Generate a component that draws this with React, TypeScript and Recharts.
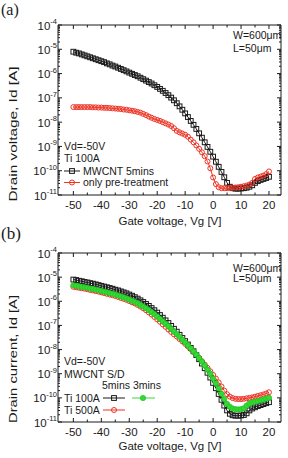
import React from "react";
import { LineChart, Line, XAxis, YAxis } from "recharts";

const FONT = "'Liberation Sans', Arial, Helvetica, sans-serif";
const SERIF = "'Liberation Serif', 'Times New Roman', serif";
const INK = "#1a1a1a";
const RED = "#ee3324";
const GREEN = "#35d935";

// gate voltage sweep [V]
const vg = [
  -50, -49, -48, -47, -46, -45, -44, -43, -42, -41, -40, -39, -38, -37, -36, -35, -34, -33, -32, -31,
  -30, -29, -28, -27, -26, -25, -24, -23, -22, -21, -20, -19, -18, -17, -16, -15, -14, -13, -12, -11,
  -10, -9, -8, -7, -6, -5, -4, -3, -2, -1, 0, 1, 2, 3, 4, 5, 6, 7, 8, 9,
  10, 11, 12, 13, 14, 15, 16, 17, 18, 19, 20,
];

// (a) log10 of Id [A], Ti 100A
const aMwcnt5 = [
  -5.10, -5.14, -5.17, -5.21, -5.25, -5.29, -5.33, -5.37, -5.41, -5.45, -5.49, -5.53, -5.58, -5.62, -5.67, -5.71, -5.76, -5.81, -5.86, -5.91,
  -5.96, -6.01, -6.06, -6.11, -6.17, -6.23, -6.29, -6.35, -6.41, -6.48, -6.55, -6.63, -6.71, -6.80, -6.89, -6.99, -7.10, -7.22, -7.35, -7.49,
  -7.64, -7.79, -7.95, -8.11, -8.28, -8.46, -8.64, -8.83, -9.02, -9.22, -9.42, -9.63, -9.84, -10.05, -10.27, -10.50, -10.66, -10.72, -10.74, -10.74,
  -10.73, -10.72, -10.70, -10.66, -10.60, -10.50, -10.43, -10.38, -10.34, -10.30, -10.25,
];
const aPreTreat = [
  -7.38, -7.38, -7.38, -7.38, -7.38, -7.38, -7.38, -7.39, -7.39, -7.40, -7.40, -7.41, -7.41, -7.42, -7.43, -7.44, -7.45, -7.46, -7.48, -7.49,
  -7.51, -7.53, -7.55, -7.58, -7.61, -7.66, -7.71, -7.77, -7.82, -7.87, -7.91, -7.95, -8.00, -8.05, -8.10, -8.16, -8.25, -8.36, -8.42, -8.47,
  -8.52, -8.60, -8.72, -8.83, -8.96, -9.10, -9.24, -9.40, -9.62, -9.90, -10.28, -10.55, -10.68, -10.72, -10.72, -10.72, -10.71, -10.70, -10.69, -10.68,
  -10.66, -10.64, -10.61, -10.57, -10.50, -10.34, -10.28, -10.24, -10.20, -10.14, -10.03,
];

// (b) log10 of Id [A], MWCNT S/D
const bTi100m5 = [
  -5.10, -5.12, -5.15, -5.17, -5.20, -5.22, -5.25, -5.27, -5.30, -5.33, -5.36, -5.39, -5.42, -5.45, -5.48, -5.52, -5.55, -5.59, -5.63, -5.67,
  -5.72, -5.77, -5.83, -5.89, -5.96, -6.03, -6.11, -6.19, -6.28, -6.37, -6.47, -6.57, -6.68, -6.79, -6.90, -7.02, -7.14, -7.26, -7.39, -7.52,
  -7.65, -7.79, -7.93, -8.07, -8.23, -8.40, -8.58, -8.77, -8.96, -9.16, -9.38, -9.60, -9.84, -10.08, -10.32, -10.52, -10.66, -10.72, -10.74, -10.74,
  -10.73, -10.71, -10.64, -10.52, -10.44, -10.39, -10.34, -10.30, -10.26, -10.22, -10.18,
];
const bTi100m3 = [
  -5.34, -5.36, -5.38, -5.40, -5.42, -5.44, -5.47, -5.49, -5.52, -5.54, -5.57, -5.60, -5.63, -5.66, -5.69, -5.72, -5.76, -5.80, -5.84, -5.88,
  -5.93, -5.98, -6.03, -6.09, -6.15, -6.22, -6.29, -6.37, -6.45, -6.54, -6.63, -6.73, -6.83, -6.93, -7.03, -7.14, -7.25, -7.36, -7.47, -7.59,
  -7.71, -7.83, -7.95, -8.08, -8.21, -8.35, -8.50, -8.66, -8.83, -9.00, -9.20, -9.40, -9.61, -9.83, -10.05, -10.25, -10.37, -10.44, -10.47, -10.48,
  -10.47, -10.43, -10.32, -10.23, -10.19, -10.16, -10.13, -10.10, -10.07, -10.03, -10.00,
];
const bTi500m5 = [
  -5.40, -5.42, -5.44, -5.46, -5.48, -5.50, -5.53, -5.55, -5.58, -5.60, -5.63, -5.66, -5.69, -5.72, -5.75, -5.78, -5.82, -5.86, -5.90, -5.94,
  -5.99, -6.04, -6.09, -6.15, -6.22, -6.29, -6.37, -6.46, -6.55, -6.65, -6.75, -6.85, -6.96, -7.06, -7.17, -7.27, -7.37, -7.46, -7.56, -7.66,
  -7.76, -7.87, -7.98, -8.10, -8.22, -8.35, -8.48, -8.62, -8.76, -8.90, -9.05, -9.20, -9.36, -9.53, -9.70, -9.85, -9.95, -10.01, -10.04, -10.05,
  -10.05, -10.04, -10.02, -10.00, -9.98, -9.95, -9.92, -9.89, -9.86, -9.82, -9.77,
];

const dataA = vg.map((v, i) => ({ vg: v, mw: 10 ** aMwcnt5[i], pre: 10 ** aPreTreat[i] }));
const dataB = vg.map((v, i) => ({
  vg: v,
  t100m5: 10 ** bTi100m5[i],
  t100m3: 10 ** bTi100m3[i],
  t500m5: 10 ** bTi500m5[i],
}));

const xTicks = [-50, -45, -40, -35, -30, -25, -20, -15, -10, -5, 0, 5, 10, 15, 20];
const decades = [-11, -10, -9, -8, -7, -6, -5];
const yTicks: number[] = [];
decades.forEach((d) => {
  for (let m = 1; m <= 9; m++) yTicks.push(m * Math.pow(10, d));
});
yTicks.push(1e-4);

const isDecade = (v: number) => {
  const l = Math.log10(v);
  return Math.abs(l - Math.round(l)) < 1e-6;
};

const LeftTick = ({ x, y, payload }: any) => {
  const v = payload.value;
  const major = isDecade(v);
  return (
    <g>
      <line x1={x} x2={x + (major ? 4 : 2)} y1={y} y2={y} stroke={INK} />
      {major && (
        <text x={x - 1} y={y + 4.5} textAnchor="end" fontSize={11.5} fontFamily={FONT} fill={INK}>
          10
          <tspan dy={-5.5} fontSize={7.5}>
            {Math.round(Math.log10(v))}
          </tspan>
        </text>
      )}
    </g>
  );
};

const RightTick = ({ x, y, payload }: any) => {
  const major = isDecade(payload.value);
  return <line x1={x} x2={x - (major ? 4 : 2)} y1={y} y2={y} stroke={INK} />;
};

const BottomTick = ({ x, y, payload }: any) => {
  const major = payload.value % 10 === 0;
  return (
    <g>
      <line x1={x} x2={x} y1={y} y2={y - (major ? 4 : 2.5)} stroke={INK} />
      {major && (
        <text x={x} y={y + 13.5} textAnchor="middle" fontSize={11.5} fontFamily={FONT} fill={INK}>
          {payload.value}
        </text>
      )}
    </g>
  );
};

const TopTick = ({ x, y, payload }: any) => {
  const major = payload.value % 10 === 0;
  return <line x1={x} x2={x} y1={y} y2={y + (major ? 4 : 2.5)} stroke={INK} />;
};

const SquareDot = (p: any) =>
  p.cx == null ? null : (
    <rect x={p.cx - 2.4} y={p.cy - 2.4} width={4.8} height={4.8} fill="none" stroke={INK} strokeWidth={1} />
  );
const RedDot = (p: any) =>
  p.cx == null ? null : <circle cx={p.cx} cy={p.cy} r={2.5} fill="none" stroke={RED} strokeWidth={1} />;
const GreenDot = (p: any) =>
  p.cx == null ? null : <circle cx={p.cx} cy={p.cy} r={2.6} fill={GREEN} stroke="#22c322" strokeWidth={0.8} />;

const axisStroke = { stroke: INK, strokeWidth: 1 };

const Frame = ({ data, height, children }: any) => (
  <LineChart width={288} height={height} data={data} margin={{ top: 24, right: 6, bottom: 0, left: 0 }}>
    <XAxis
      xAxisId="b"
      dataKey="vg"
      type="number"
      domain={[-55.5, 24.3]}
      allowDataOverflow
      ticks={xTicks}
      interval={0}
      tickSize={0}
      tickMargin={0}
      tickLine={false}
      tick={<BottomTick />}
      axisLine={axisStroke}
      height={34}
    />
    <XAxis
      xAxisId="t"
      orientation="top"
      dataKey="vg"
      type="number"
      domain={[-55.5, 24.3]}
      allowDataOverflow
      ticks={xTicks}
      interval={0}
      tickSize={0}
      tickMargin={0}
      tickLine={false}
      tick={<TopTick />}
      axisLine={axisStroke}
      height={1}
    />
    <YAxis
      yAxisId="l"
      scale="log"
      domain={[1e-11, 1e-4]}
      allowDataOverflow
      ticks={yTicks}
      interval={0}
      tickSize={0}
      tickMargin={0}
      tickLine={false}
      tick={<LeftTick />}
      axisLine={axisStroke}
      width={58}
    />
    <YAxis
      yAxisId="r"
      orientation="right"
      scale="log"
      domain={[1e-11, 1e-4]}
      allowDataOverflow
      ticks={yTicks}
      interval={0}
      tickSize={0}
      tickMargin={0}
      tickLine={false}
      tick={<RightTick />}
      axisLine={axisStroke}
      width={1}
    />
    {children}
  </LineChart>
);

const txt = { fontFamily: FONT, fill: INK };

export default function App() {
  return (
    <div style={{ position: "absolute", left: 0, top: 0, width: 288, height: 458, background: "#fff" }}>
      <div style={{ position: "absolute", left: 0, top: 0 }}>
        <Frame data={dataA} height={229}>
          <Line xAxisId="b" yAxisId="l" dataKey="mw" stroke={INK} strokeWidth={1} dot={<SquareDot />} activeDot={false} isAnimationActive={false} />
          <Line xAxisId="b" yAxisId="l" dataKey="pre" stroke={RED} strokeWidth={1} dot={<RedDot />} activeDot={false} isAnimationActive={false} />
        </Frame>
      </div>
      <div style={{ position: "absolute", left: 0, top: 228 }}>
        <Frame data={dataB} height={228}>
          <Line xAxisId="b" yAxisId="l" dataKey="t500m5" stroke={RED} strokeWidth={1} dot={<RedDot />} activeDot={false} isAnimationActive={false} />
          <Line xAxisId="b" yAxisId="l" dataKey="t100m5" stroke={INK} strokeWidth={1} dot={<SquareDot />} activeDot={false} isAnimationActive={false} />
          <Line xAxisId="b" yAxisId="l" dataKey="t100m3" stroke={GREEN} strokeWidth={1} dot={<GreenDot />} activeDot={false} isAnimationActive={false} />
        </Frame>
      </div>

      {/* titles, annotations and legends */}
      <svg width={288} height={458} style={{ position: "absolute", left: 0, top: 0, pointerEvents: "none" }}>
        <text x={1} y={15} fontSize={16} fontFamily={SERIF} fill={INK}>(a)</text>
        <text
          transform="translate(17,134) rotate(-90)"
          textAnchor="middle"
          fontSize={11.5}
          textLength={135}
          lengthAdjust="spacingAndGlyphs"
          {...txt}
        >
          Drain voltage, Id [A]
        </text>
        <text x={170} y={225} textAnchor="middle" fontSize={11.5} {...txt}>Gate voltage, Vg [V]</text>
        <text x={233} y={38.5} fontSize={10.5} {...txt}>W=600μm</text>
        <text x={233} y={52} fontSize={10.5} {...txt}>L=50μm</text>
        <text x={64} y={150} fontSize={10.5} {...txt}>Vd=-50V</text>
        <text x={64} y={162} fontSize={10.5} {...txt}>Ti 100A</text>
        <line x1={64} x2={80} y1={171} y2={171} stroke={INK} />
        <SquareDot cx={72} cy={171} />
        <text x={83} y={174.5} fontSize={10.5} {...txt}>MWCNT 5mins</text>
        <line x1={64} x2={80} y1={182.5} y2={182.5} stroke={RED} />
        <RedDot cx={72} cy={182.5} />
        <text x={83} y={186} fontSize={10.5} {...txt}>only pre-treatment</text>

        <text x={1} y={239} fontSize={17} fontFamily={SERIF} fill={INK}>(b)</text>
        <text
          transform="translate(17,359) rotate(-90)"
          textAnchor="middle"
          fontSize={11.5}
          textLength={128}
          lengthAdjust="spacingAndGlyphs"
          {...txt}
        >
          Drain current, Id [A]
        </text>
        <text x={170} y={449.5} textAnchor="middle" fontSize={11.5} {...txt}>Gate voltage, Vg [V]</text>
        <text x={233} y={271.5} fontSize={10.5} {...txt}>W=600μm</text>
        <text x={233} y={282} fontSize={10.5} {...txt}>L=50μm</text>
        <text x={64} y={365} fontSize={10.5} {...txt}>Vd=-50V</text>
        <text x={64} y={377.5} fontSize={10.5} {...txt}>MWCNT S/D</text>
        <text x={102} y={389} fontSize={10.5} {...txt}>5mins 3mins</text>
        <text x={64} y={402} fontSize={10.5} {...txt}>Ti 100A</text>
        <line x1={103} x2={125} y1={398} y2={398} stroke={INK} />
        <SquareDot cx={114} cy={398} />
        <line x1={132} x2={155} y1={398} y2={398} stroke={GREEN} />
        <GreenDot cx={143} cy={398} />
        <text x={64} y={413.5} fontSize={10.5} {...txt}>Ti 500A</text>
        <line x1={103} x2={125} y1={410} y2={410} stroke={RED} />
        <RedDot cx={114} cy={410} />
      </svg>
    </div>
  );
}
